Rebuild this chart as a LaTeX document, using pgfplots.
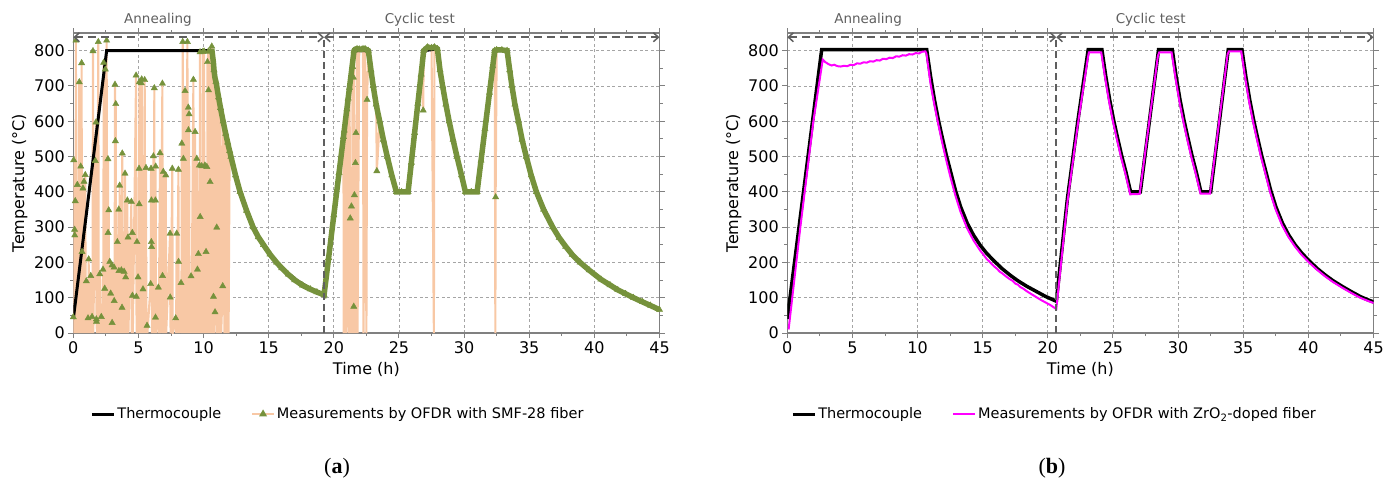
\documentclass[border=0pt]{standalone}
\usepackage{fontspec}
\setmainfont{DejaVu Sans}
\newfontfamily\capfont{Liberation Serif}
\usepackage{pgfplots}
\usepackage{pgfplotstable}
\pgfplotsset{compat=1.18}
\usetikzlibrary{arrows.meta}

\definecolor{peach}{RGB}{248,200,165}
\definecolor{olivegreen}{RGB}{118,146,60}
\definecolor{framegray}{RGB}{128,128,128}
\definecolor{gridgray}{RGB}{165,165,165}
\definecolor{annot}{RGB}{95,95,95}
\definecolor{pinkline}{RGB}{255,0,255}

% thermocouple, panel (a)
\pgfplotstableread{
t T
0.00 40
2.56 800
10.63 800
11.00 700
11.50 600
12.10 500
12.80 400
13.80 300
14.60 250
15.60 200
16.40 172
17.20 148
18.20 126
19.25 108
21.55 800
22.65 800
23.02 700
23.52 600
24.10 500
24.80 400
25.70 400
26.90 800
27.95 805
28.35 700
28.85 600
29.45 500
30.10 400
31.00 400
32.35 800
33.30 800
33.67 700
34.17 600
34.77 500
35.55 400
36.80 300
37.80 245
38.90 200
40.50 152
41.80 122
43.00 100
44.30 78
45.00 66
}\thermoA

% OFDR with SMF-28 fiber: t, reading T, smooth trace C
\pgfplotstableread{
t T C
0.00 45 nan
0.03 490 nan
0.05 0 nan
0.10 293 nan
0.11 277 nan
0.13 0 nan
0.15 374 nan
0.17 0 nan
0.20 829 nan
0.23 0 nan
0.31 420 nan
0.34 0 nan
0.46 711 nan
0.49 0 nan
0.57 472 nan
0.60 0 nan
0.64 765 nan
0.66 0 nan
0.67 230 nan
0.70 0 nan
0.74 410 nan
0.77 0 nan
0.82 429 nan
0.85 0 nan
0.92 448 nan
0.95 0 nan
1.00 147 nan
1.03 0 nan
1.13 42 nan
1.16 0 nan
1.18 209 nan
1.21 0 nan
1.34 162 nan
1.37 0 nan
1.44 46 nan
1.47 0 nan
1.51 799 nan
1.54 0 nan
1.69 488 nan
1.74 597 nan
1.77 39 nan
1.78 32 nan
1.82 0 nan
1.92 825 nan
1.95 0 nan
2.03 167 nan
2.06 0 nan
2.15 46 nan
2.18 0 nan
2.28 180 nan
2.31 0 nan
2.33 766 nan
2.36 0 nan
2.41 126 nan
2.44 0 nan
2.46 747 nan
2.49 0 nan
2.56 829 nan
2.59 0 nan
2.66 493 nan
2.67 284 nan
2.69 0 nan
2.72 348 nan
2.75 0 nan
2.80 202 nan
2.83 0 nan
2.87 112 nan
2.90 0 nan
2.97 192 nan
2.98 29 nan
3.00 0 nan
3.13 186 nan
3.14 91 nan
3.17 0 nan
3.20 704 nan
3.23 544 nan
3.26 649 nan
3.29 0 nan
3.38 258 nan
3.41 0 nan
3.49 350 nan
3.50 176 nan
3.53 0 nan
3.56 418 nan
3.59 0 nan
3.69 178 nan
3.72 0 nan
3.74 72 nan
3.76 509 nan
3.79 0 nan
3.90 174 nan
3.93 0 nan
3.97 452 nan
4.00 0 nan
4.02 158 nan
4.05 0 nan
4.15 376 nan
4.18 0 nan
4.20 271 nan
4.23 0 nan
4.46 372 nan
4.49 0 nan
4.53 284 nan
4.54 106 nan
4.57 0 nan
4.82 730 nan
4.84 103 nan
4.87 0 nan
4.89 258 nan
4.92 0 nan
4.97 158 nan
5.00 0 nan
5.05 466 nan
5.06 365 nan
5.07 711 nan
5.10 0 nan
5.22 708 nan
5.25 719 nan
5.28 0 nan
5.35 124 nan
5.38 0 nan
5.48 717 nan
5.51 0 nan
5.58 468 nan
5.61 0 nan
5.66 21 nan
5.69 0 nan
5.94 139 nan
5.97 466 nan
5.99 258 nan
6.00 376 nan
6.01 244 nan
6.04 0 nan
6.15 501 nan
6.18 0 nan
6.22 694 nan
6.25 0 nan
6.30 376 nan
6.31 44 nan
6.32 472 nan
6.35 0 nan
6.53 129 nan
6.56 0 nan
6.66 510 nan
6.69 0 nan
6.84 707 nan
6.85 162 nan
6.88 0 nan
6.91 457 nan
6.94 0 nan
7.10 447 nan
7.13 0 nan
7.43 282 nan
7.44 101 nan
7.47 0 nan
7.60 466 nan
7.63 0 nan
7.86 42 nan
7.89 0 nan
7.94 282 nan
7.97 0 nan
8.07 463 nan
8.08 202 nan
8.11 0 nan
8.27 142 nan
8.30 0 nan
8.33 537 nan
8.36 0 nan
8.40 825 nan
8.43 0 nan
8.45 494 nan
8.48 0 nan
8.58 686 nan
8.61 0 nan
8.76 825 nan
8.79 0 nan
8.83 639 nan
8.84 575 nan
8.89 620 nan
8.92 0 nan
9.04 161 nan
9.07 0 nan
9.22 718 nan
9.25 0 nan
9.35 570 nan
9.38 0 nan
9.48 494 nan
9.51 0 nan
9.53 180 nan
9.60 224 nan
9.63 0 nan
9.68 475 nan
9.71 0 nan
9.73 796 nan
9.74 329 nan
9.77 0 nan
9.86 473 nan
9.89 0 nan
9.95 797 nan
10.04 798 nan
10.07 0 nan
10.10 475 nan
10.13 0 nan
10.19 230 nan
10.22 0 nan
10.25 471 nan
10.28 0 nan
10.30 768 nan
10.37 798 nan
10.38 688 nan
10.41 0 nan
10.50 428 nan
10.52 798 nan
10.55 0 nan
10.63 812 805
10.68 0 790
10.76 103 765
10.80 745 745
10.84 0 733
10.88 59 722
10.95 712 712
11.01 299 700
11.05 0 690
11.15 668 668
11.20 0 658
11.30 638 638
11.35 0 628
11.47 133 606
11.50 600 600
11.60 0 582
11.70 565 565
11.75 0 556
11.85 540 540
11.92 0 528
12.00 516 516
12.10 500 500
12.45 447 447
12.80 400 400
13.30 347 347
13.80 300 300
14.20 272 272
14.60 250 250
15.10 223 223
15.60 200 200
16.00 184 184
16.50 166 166
17.00 150 150
17.60 135 135
18.20 124 124
18.70 116 116
19.25 108 108
19.60 213 213
20.00 334 334
20.40 454 454
20.74 556 556
20.76 0 562
20.80 574 574
20.95 0 620
21.00 634 634
21.10 665 665
21.15 0 680
21.20 695 695
21.26 325 713
21.30 0 725
21.35 359 740
21.38 0 749
21.44 754 767
21.47 0 776
21.50 724 785
21.53 75 794
21.55 800 800
21.58 391 802
21.62 0 803
21.66 482 804
21.70 567 804
21.74 0 805
21.78 805 805
21.82 0 805
21.95 804 804
22.10 803 803
22.24 805 805
22.28 0 805
22.40 805 805
22.50 0 803
22.55 661 802
22.65 800 800
22.85 745 745
23.02 700 700
23.25 648 648
23.30 459 638
23.52 600 600
23.80 548 548
24.10 500 500
24.45 447 447
24.80 400 400
25.20 400 400
25.70 400 400
25.95 483 483
26.20 567 567
26.45 650 650
26.70 733 733
26.86 631 787
26.90 800 800
27.20 810 810
27.50 808 808
27.68 0 809
27.72 810 810
27.95 805 805
28.15 745 745
28.35 700 700
28.60 648 648
28.85 600 600
29.15 548 548
29.45 500 500
29.80 447 447
30.10 400 400
30.55 400 400
31.00 400 400
31.30 489 489
31.60 578 578
31.95 681 681
32.20 756 756
32.35 800 800
32.40 0 801
32.42 385 801
32.50 802 802
32.90 802 802
33.30 800 800
33.50 745 745
33.67 700 700
33.90 648 648
34.17 600 600
34.45 548 548
34.77 500 500
35.15 447 447
35.55 400 400
36.10 350 350
36.80 300 300
37.30 270 270
37.80 245 245
38.30 222 222
38.90 200 200
39.60 178 178
40.50 152 152
41.20 136 136
41.80 122 122
42.40 111 111
43.00 100 100
43.70 88 88
44.30 78 78
45.00 66 66
}\ofdrA

% thermocouple, panel (b)
\pgfplotstableread{
t T
0.00 40
2.64 803
10.70 803
11.00 726
11.30 660
11.60 603
11.90 553
12.20 505
12.55 455
12.90 405
13.30 358
13.80 312
14.30 277
14.80 249
15.30 226
15.90 203
16.50 182
17.10 164
17.70 148
18.40 132
19.10 118
19.80 104
20.65 90
21.50 380
22.30 600
23.10 803
24.15 803
24.45 726
24.75 660
25.05 603
25.35 553
25.65 505
26.00 455
26.35 400
27.10 400
28.50 803
29.55 803
29.85 726
30.15 660
30.45 603
30.75 553
31.05 505
31.40 455
31.75 400
32.50 400
33.85 803
34.90 803
35.20 726
35.50 660
35.80 603
36.10 553
36.40 505
36.75 455
37.10 405
37.50 358
38.00 312
38.50 277
39.00 249
39.50 226
40.10 203
40.70 182
41.30 164
41.90 148
42.60 132
43.30 117
44.00 103
44.50 95
45.00 88
}\thermoB

% OFDR with ZrO2-doped fiber
\pgfplotstableread{
t T
0.10 10
1.00 300
2.00 600
2.72 775
2.90 768
3.15 762
3.40 758
3.60 760
3.85 756
4.10 755
4.35 757
4.60 756
4.85 760
5.10 759
5.35 764
5.60 763
5.85 767
6.10 766
6.35 770
6.60 769
6.85 773
7.10 772
7.35 777
7.60 776
7.85 780
8.10 779
8.35 784
8.60 783
8.85 787
9.10 786
9.35 790
9.60 789
9.85 793
10.10 792
10.35 797
10.60 798
10.68 792
11.00 705
11.30 645
11.60 590
11.90 538
12.20 490
12.55 438
12.90 390
13.30 343
13.80 297
14.30 262
14.80 234
15.10 220
15.30 210
15.50 203
15.70 195
15.90 188
16.10 182
16.30 174
16.50 169
16.80 160
17.10 152
17.30 148
17.50 140
17.70 137
17.90 130
18.10 126
18.40 118
18.70 111
19.10 102
19.50 93
19.80 87
20.20 79
20.65 68
21.50 370
22.30 590
23.05 775
23.15 795
24.10 795
24.42 718
24.72 652
25.02 596
25.32 546
25.62 498
25.97 449
26.32 393
27.05 394
28.45 785
28.55 795
29.50 795
29.82 718
30.12 652
30.42 596
30.72 546
31.02 498
31.37 449
31.72 395
32.45 395
33.80 790
33.90 798
34.85 798
35.17 718
35.47 652
35.77 596
36.07 546
36.37 498
36.72 449
37.07 398
37.47 352
37.97 306
38.47 272
38.97 245
39.47 222
40.07 199
40.67 179
41.27 161
41.87 145
42.57 129
43.27 114
43.97 100
44.50 92
45.00 85
}\ofdrB

\pgfplotsset{panel/.style={
  scale only axis, width=586.2pt, height=300pt,
  xmin=0, xmax=45, ymin=0, ymax=850,
  xtick={0,5,...,45}, ytick={0,100,...,800},
  minor tick num=1,
  tick align=outside, major tick length=5pt, minor tick length=3pt,
  axis line style={framegray, line width=1.2pt},
  tick style={framegray, line width=1pt},
  grid=major,
  major grid style={gridgray, line width=0.7pt, dash pattern=on 3pt off 2.5pt},
  tick label style={font=\fontsize{16}{18}\selectfont},
  /pgf/number format/assume math mode=true,
  label style={font=\fontsize{16}{18}\selectfont},
  xlabel={Time (h)}, ylabel={Temperature (°C)},
  xlabel style={yshift=-2pt},
  clip mode=individual,
  legend style={draw=none, fill=none, font=\fontsize{14.5}{17}\selectfont,
    legend columns=2, anchor=center,
    /tikz/every even column/.append style={column sep=28pt}},
  legend image code/.code={\draw[mark repeat=2,mark phase=2,##1]
    plot coordinates {(0pt,0pt) (11pt,0pt) (22pt,0pt)};},
}}

\begin{document}
\begin{tikzpicture}
\useasboundingbox (0,0) rectangle (1397pt,-486pt);

% ---- panel (a)
\begin{axis}[panel, at={(73.3pt,-333pt)}, anchor=south west,
  legend style={at={(0.4515,-0.27)}}]
\addplot[peach, line width=2.1pt, forget plot] table[x=t, y=T] {\ofdrA};
\addplot[black, line width=3pt, forget plot] table[x=t, y=T] {\thermoA};
\addplot[olivegreen, line width=5.5pt, unbounded coords=jump, forget plot] table[x=t, y=C] {\ofdrA};
\addplot[only marks, mark=triangle*, mark size=3.6pt, olivegreen,
  restrict y to domain=1:900, forget plot] table[x=t, y=T] {\ofdrA};
\draw[annot, line width=1.8pt, dash pattern=on 7pt off 4pt] (axis cs:19.25,0) -- (axis cs:19.25,838);
\draw[annot, line width=1.5pt, dash pattern=on 8pt off 5pt,
  {Straight Barb[length=5pt,width=9pt]}-{Straight Barb[length=5pt,width=9pt]}]
  (axis cs:0,838) -- (axis cs:19.25,838);
\draw[annot, line width=1.5pt, dash pattern=on 8pt off 5pt,
  {Straight Barb[length=5pt,width=9pt]}-{Straight Barb[length=5pt,width=9pt]}]
  (axis cs:19.25,838) -- (axis cs:45,838);
\node[annot, font=\fontsize{13.5}{15}\selectfont] at (axis cs:6.5,887) {Annealing};
\node[annot, font=\fontsize{13.5}{15}\selectfont] at (axis cs:26.6,887) {Cyclic test};
\addlegendimage{black, line width=3pt}
\addlegendentry{Thermocouple}
\addlegendimage{peach, line width=1.6pt, mark=triangle*, mark size=3pt, mark options={olivegreen, solid}}
\addlegendentry{Measurements by OFDR with SMF-28 fiber}
\end{axis}

% ---- panel (b)
\begin{axis}[panel, at={(787.3pt,-333pt)}, anchor=south west,
  legend style={at={(0.456,-0.27)}}]
\addplot[black, line width=3.5pt, forget plot] table[x=t, y=T] {\thermoB};
\addplot[pinkline, line width=2pt, forget plot] table[x=t, y=T] {\ofdrB};
\draw[annot, line width=1.8pt, dash pattern=on 7pt off 4pt] (axis cs:20.65,0) -- (axis cs:20.65,838);
\draw[annot, line width=1.5pt, dash pattern=on 8pt off 5pt,
  {Straight Barb[length=5pt,width=9pt]}-{Straight Barb[length=5pt,width=9pt]}]
  (axis cs:0,838) -- (axis cs:20.65,838);
\draw[annot, line width=1.5pt, dash pattern=on 8pt off 5pt,
  {Straight Barb[length=5pt,width=9pt]}-{Straight Barb[length=5pt,width=9pt]}]
  (axis cs:20.65,838) -- (axis cs:45,838);
\node[annot, font=\fontsize{13.5}{15}\selectfont] at (axis cs:6.2,887) {Annealing};
\node[annot, font=\fontsize{13.5}{15}\selectfont] at (axis cs:27.9,887) {Cyclic test};
\addlegendimage{black, line width=3pt}
\addlegendentry{Thermocouple}
\addlegendimage{pinkline, line width=2pt}
\addlegendentry{Measurements by OFDR with ZrO\textsubscript{2}-doped fiber}
\end{axis}

\node[font=\capfont\fontsize{22}{26}\selectfont] at (337pt,-468pt) {(\textbf{a})};
\node[font=\capfont\fontsize{22}{26}\selectfont] at (1052pt,-468pt) {(\textbf{b})};
\end{tikzpicture}
\end{document}
